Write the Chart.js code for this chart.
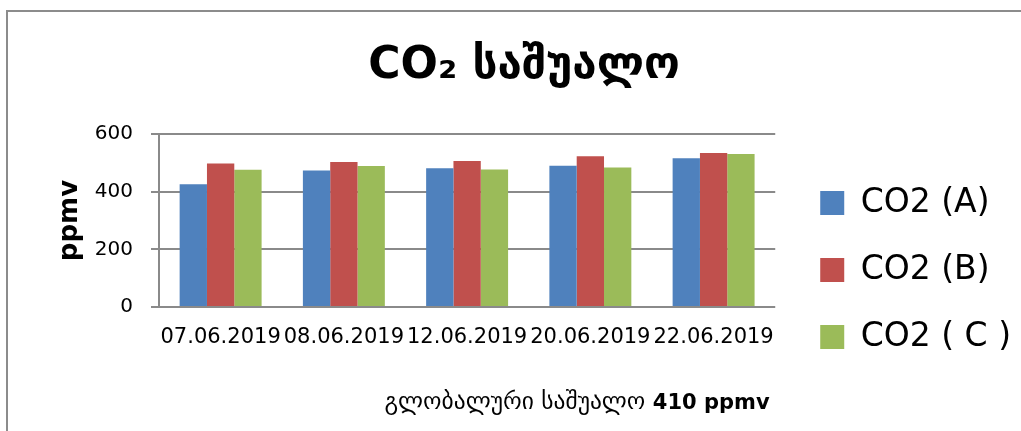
<!DOCTYPE html>
<html>
<head>
<meta charset="utf-8">
<script src="https://cdn.jsdelivr.net/npm/chart.js@4/dist/chart.umd.min.js"></script>
<style>
  html, body { margin: 0; padding: 0; background: #fff; overflow: hidden; }
  #wrap { width: 1021px; height: 431px; }
</style>
</head>
<body>
<div id="wrap"><canvas id="c" width="1021" height="431"></canvas></div>
<script>
// Measurement dates and CO2 readings (ppmv) at three points
const categories = ['07.06.2019', '08.06.2019', '12.06.2019', '20.06.2019', '22.06.2019'];
const seriesNames = ['CO2 (A)', 'CO2 (B)', 'CO2 ( C )'];
const co2A = [426, 473, 481, 490, 516];
const co2B = [498, 503, 506, 523, 534];
const co2C = [476, 489, 477, 484, 531];
const yTicks = [0, 200, 400, 600];
const titleText = 'CO₂ საშუალო';
const yTitle = 'ppmv';
const noteText = 'გლობალური საშუალო';
const noteValue = '410 ppmv';

const colors = ['#4F81BD', '#C0504D', '#9BBB59'];
const gridColor = '#8a8a8a';
const FONT = "'DejaVu Sans', sans-serif";

Chart.defaults.font.family = FONT;
Chart.defaults.color = '#000';

// Gray frame along the top and left edges
const framePlugin = {
  id: 'frame',
  beforeDraw(chart) {
    const ctx = chart.ctx;
    ctx.save();
    ctx.fillStyle = '#fff';
    ctx.fillRect(0, 0, chart.width, chart.height);
    ctx.strokeStyle = '#8c8c8c';
    ctx.lineWidth = 2;
    ctx.beginPath();
    ctx.moveTo(7, chart.height + 5);
    ctx.lineTo(7, 11);
    ctx.lineTo(chart.width + 5, 11);
    ctx.stroke();
    ctx.restore();
  }
};

// Footnote with the global average under the chart
const notePlugin = {
  id: 'note',
  afterDraw(chart) {
    const ctx = chart.ctx;
    ctx.save();
    const regular = "23.5px " + FONT;
    const bold = "bold 21px " + FONT;
    ctx.font = regular;
    const w1 = ctx.measureText(noteText + ' ').width;
    ctx.font = bold;
    const w2 = ctx.measureText(noteValue).width;
    const cx = 577;
    const x0 = cx - (w1 + w2) / 2;
    const baseY = 409;
    ctx.fillStyle = '#000';
    ctx.textBaseline = 'alphabetic';
    ctx.textAlign = 'left';
    ctx.font = regular;
    ctx.fillText(noteText + ' ', x0, baseY);
    ctx.font = bold;
    ctx.fillText(noteValue, x0 + w1, baseY);
    ctx.restore();
  }
};

const series = [co2A, co2B, co2C];

new Chart(document.getElementById('c'), {
  type: 'bar',
  data: {
    labels: categories,
    datasets: series.map((vals, i) => ({
      label: seriesNames[i],
      data: vals,
      backgroundColor: colors[i],
      borderWidth: 0,
      categoryPercentage: 0.665,
      barPercentage: 1.0
    }))
  },
  options: {
    responsive: false,
    animation: false,
    devicePixelRatio: 1,
    layout: { padding: { left: 27, right: 0, top: 0, bottom: 43.5 } },
    plugins: {
      title: {
        display: true,
        text: titleText,
        color: '#000',
        font: { family: FONT, size: 44, weight: 'bold' },
        padding: { top: 40, bottom: 41.2 }
      },
      legend: {
        position: 'right',
        align: 'end',
        labels: {
          boxWidth: 24,
          boxHeight: 24,
          padding: 34,
          color: '#000',
          font: { family: FONT, size: 33 }
        }
      },
      tooltip: { enabled: false }
    },
    scales: {
      x: {
        grid: { display: false, drawTicks: false },
        border: { display: false },
        ticks: {
          autoSkip: false,
          maxRotation: 0,
          minRotation: 0,
          padding: 18,
          color: '#000',
          font: { family: FONT, size: 21 }
        },
        afterFit(scale) { scale.height = 80.5; }
      },
      y: {
        min: 0,
        max: 600,
        afterBuildTicks(scale) { scale.ticks = yTicks.map(v => ({ value: v })); },
        grid: { color: gridColor, lineWidth: 2, drawTicks: true, tickLength: 8 },
        border: { display: true, color: gridColor, width: 2 },
        ticks: {
          padding: 18,
          color: '#000',
          font: { family: FONT, size: 20 }
        },
        title: {
          display: true,
          text: yTitle,
          color: '#000',
          font: { family: FONT, size: 26, weight: 'bold' },
          padding: { top: 27.4, bottom: 0 }
        },
        afterFit(scale) { scale.width = 132; }
      },
      // empty spacer between the plot and the legend
      gap: {
        type: 'linear',
        position: 'right',
        display: false,
        afterFit(scale) { scale.width = 11; }
      }
    }
  },
  plugins: [framePlugin, notePlugin]
});
</script>
</body>
</html>
